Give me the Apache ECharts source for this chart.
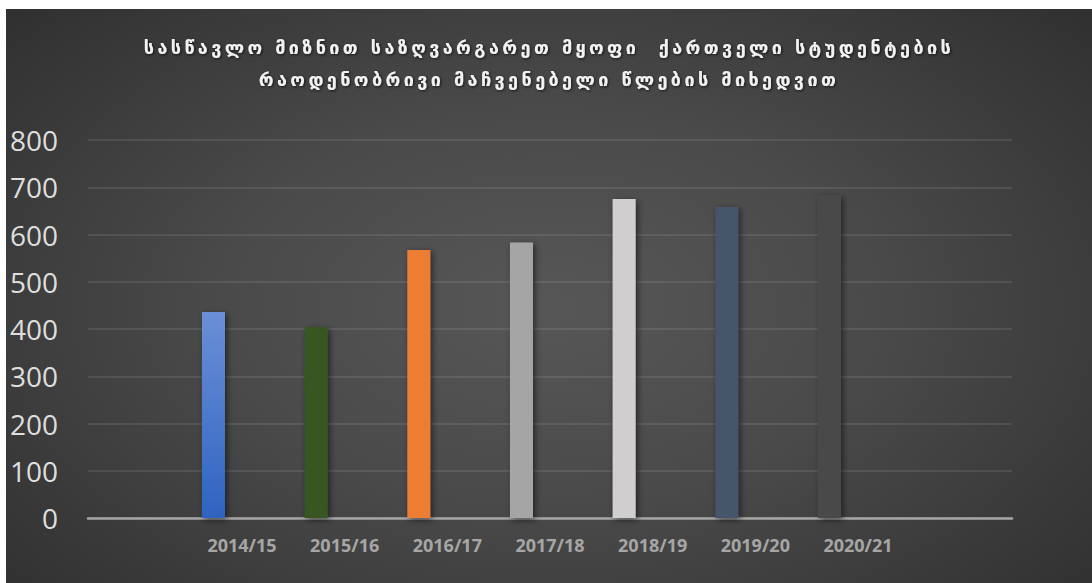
<!DOCTYPE html>
<html>
<head>
<meta charset="utf-8">
<script src="https://cdn.jsdelivr.net/npm/echarts@6/dist/echarts.min.js"></script>
<style>
  html, body { margin: 0; padding: 0; background: #fff; }
  #chart {
    position: absolute; left: 6px; top: 9px; width: 1086px; height: 574px;
    background: radial-gradient(ellipse 75% 85% at 50% 52%, #575757 0%, #4a4a4a 40%, #2b2b2b 100%);
  }
  /* wide tracking for the title like the original */
  #chart text[style*="DejaVu"], #chart text[font-family*="DejaVu"] { letter-spacing: 3.4px; }
</style>
</head>
<body>
<div id="chart"></div>
<script>
const years = ['', '2014/15', '2015/16', '2016/17', '2017/18', '2018/19', '2019/20', '2020/21', ''];
const students = [null, 436, 404, 567, 583, 675, 658, 683, null];
const yTicks = [0, 100, 200, 300, 400, 500, 600, 700, 800];
const titleLines = [
  'სასწავლო მიზნით საზღვარგარეთ მყოფი  ქართველი სტუდენტების',
  'რაოდენობრივი მაჩვენებელი წლების მიხედვით'
];

const palette = [
  null,
  { type: 'linear', x: 0, y: 0, x2: 0, y2: 1,
    colorStops: [{ offset: 0, color: '#6b8fd6' }, { offset: 1, color: '#2f63c0' }] },
  '#375623', '#ed7d31', '#a5a5a5', '#d0cece', '#44546a', '#4a4a4a', null
];

const myChart = echarts.init(document.getElementById('chart'), null, { renderer: 'svg' });

const barData = students.map(function (v, i) {
  return { value: v, itemStyle: { color: palette[i] || '#888' } };
});

const option = {
  backgroundColor: 'transparent',
  animation: false,
  title: {
    left: 'center',
    top: 17,
    text: titleLines.join('\n'),
    textStyle: {
      fontFamily: 'DejaVu Sans',
      fontWeight: 'bold',
      fontSize: 18,
      lineHeight: 32,
      color: '#f2f2f2',
      textShadowColor: 'rgba(0,0,0,0.7)',
      textShadowBlur: 3,
      textShadowOffsetX: 1,
      textShadowOffsetY: 1
    }
  },
  grid: { left: 82, right: 80, top: 131, bottom: 65 },
  xAxis: {
    type: 'category',
    data: years,
    axisLine: { lineStyle: { color: '#a6a6a6', width: 2.5 } },
    axisTick: { show: false },
    axisLabel: {
      interval: 0,
      margin: 18,
      fontFamily: 'Open Sans',
      fontWeight: 'bold',
      fontSize: 18,
      color: '#a6a6a6'
    }
  },
  yAxis: {
    type: 'value',
    min: yTicks[0],
    max: yTicks[yTicks.length - 1],
    interval: 100,
    axisLine: { show: false },
    axisTick: { show: false },
    splitLine: { lineStyle: { color: 'rgba(255,255,255,0.12)', width: 1.5 } },
    axisLabel: {
      margin: 30,
      fontFamily: 'Open Sans',
      fontSize: 28,
      color: '#dedede'
    }
  },
  series: [{
    type: 'bar',
    barWidth: 23,
    barGap: '148%',
    data: barData,
    itemStyle: {
      shadowColor: 'rgba(0,0,0,0.55)',
      shadowBlur: 6,
      shadowOffsetX: 2,
      shadowOffsetY: 2
    }
  }, {
    type: 'bar',
    barWidth: 23,
    data: students.map(function () { return null; })
  }]
};
myChart.setOption(option);
</script>
</body>
</html>
